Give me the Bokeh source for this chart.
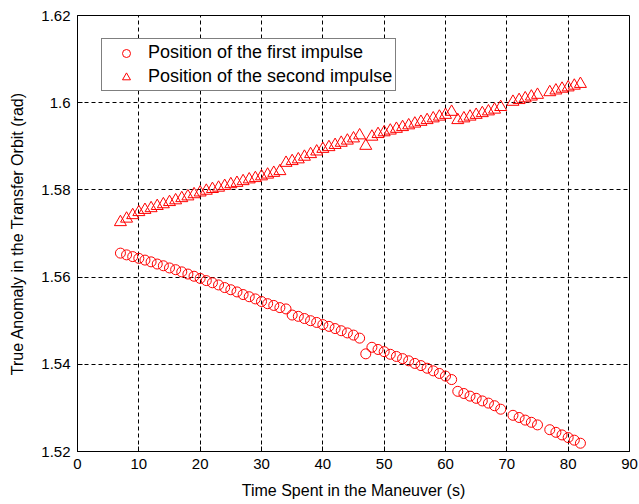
from bokeh.plotting import figure
from bokeh.models import Range1d, FixedTicker, Legend, LegendItem
from bokeh.embed import file_html
from bokeh.resources import INLINE

# ---- data ----
x_time = [7, 8, 9, 10, 11, 12, 13, 14, 15, 16, 17, 18, 19, 20, 21, 22, 23, 24, 25, 26,
          27, 28, 29, 30, 31, 32, 33, 34, 35, 36, 37, 38, 39, 40, 41, 42, 43, 44, 45, 46,
          47, 48, 49, 50, 51, 52, 53, 54, 55, 56, 57, 58, 59, 60, 61, 62, 63, 64, 65, 66,
          67, 68, 69, 71, 72, 73, 74, 75, 77, 78, 79, 80, 81, 82]

first_impulse = [1.5655, 1.5651, 1.5647, 1.5643, 1.5639, 1.5635, 1.5630, 1.5626, 1.5621, 1.5617,
                 1.5612, 1.5607, 1.5602, 1.5597, 1.5592, 1.5587, 1.5582, 1.5576, 1.5571, 1.5566,
                 1.5560, 1.5555, 1.5550, 1.5544, 1.5539, 1.5535, 1.5530, 1.5527, 1.5513, 1.5510,
                 1.5505, 1.5500, 1.5496, 1.5491, 1.5487, 1.5482, 1.5477, 1.5472, 1.5467, 1.5460,
                 1.5424, 1.5439, 1.5434, 1.5429, 1.5423, 1.5418, 1.5413, 1.5408, 1.5402, 1.5397,
                 1.5391, 1.5385, 1.5379, 1.5373, 1.5365, 1.5338, 1.5333, 1.5327, 1.5322, 1.5316,
                 1.5311, 1.5305, 1.5297, 1.5283, 1.5278, 1.5272, 1.5267, 1.5261, 1.5250, 1.5244,
                 1.5238, 1.5232, 1.5226, 1.5219]

second_impulse = [1.5726, 1.5734, 1.5742, 1.5749, 1.5754, 1.5758, 1.5763, 1.5767, 1.5772, 1.5776,
                  1.5781, 1.5785, 1.5790, 1.5794, 1.5798, 1.5802, 1.5805, 1.5809, 1.5813, 1.5816,
                  1.5820, 1.5824, 1.5827, 1.5831, 1.5835, 1.5839, 1.5843, 1.5862, 1.5866, 1.5870,
                  1.5876, 1.5882, 1.5888, 1.5894, 1.5898, 1.5903, 1.5908, 1.5913, 1.5918, 1.5925,
                  1.5901, 1.5922, 1.5928, 1.5932, 1.5936, 1.5940, 1.5944, 1.5948, 1.5952, 1.5956,
                  1.5960, 1.5964, 1.5968, 1.5972, 1.5979, 1.5960, 1.5964, 1.5968, 1.5972, 1.5976,
                  1.5980, 1.5984, 1.5990, 1.6002, 1.6006, 1.6010, 1.6014, 1.6018, 1.6024, 1.6028,
                  1.6032, 1.6035, 1.6039, 1.6043]

x_ticks = [0, 10, 20, 30, 40, 50, 60, 70, 80, 90]
y_ticks = [1.52, 1.54, 1.56, 1.58, 1.6, 1.62]
y_tick_labels = ["1.52", "1.54", "1.56", "1.58", "1.6", "1.62"]

series_labels = ["Position of the first impulse", "Position of the second impulse"]
x_title = "Time Spent in the Maneuver (s)"
y_title = "True Anomaly in the Transfer Orbit (rad)"

FONT = "Liberation Sans"

p = figure(width=639, height=504, output_backend="svg", toolbar_location=None,
           x_range=Range1d(0, 90), y_range=Range1d(1.52, 1.62),
           min_border_left=77, min_border_right=10, min_border_top=15, min_border_bottom=53)
p.background_fill_color = "white"
p.border_fill_color = "white"
p.outline_line_color = "black"
p.outline_line_width = 1
p.outline_line_alpha = 1.0

for ax in (p.xaxis[0], p.yaxis[0]):
    ax.major_tick_in = 5
    ax.major_tick_out = 0
    ax.minor_tick_in = 0
    ax.minor_tick_out = 0
    ax.axis_line_color = "black"
    ax.major_tick_line_color = "black"
    ax.major_label_text_font = FONT
    ax.major_label_text_font_size = "15px"
    ax.major_label_text_color = "black"
    ax.axis_label_text_font = FONT
    ax.axis_label_text_font_size = "16px"
    ax.axis_label_text_font_style = "normal"
    ax.axis_label_text_color = "black"

p.xaxis[0].ticker = FixedTicker(ticks=x_ticks)
p.yaxis[0].ticker = FixedTicker(ticks=y_ticks)
p.yaxis[0].major_label_overrides = {t: l for t, l in zip(y_ticks, y_tick_labels)}
p.xaxis[0].axis_label = x_title
p.yaxis[0].axis_label = y_title
p.xaxis[0].major_label_standoff = 7
p.yaxis[0].major_label_standoff = 7
p.xaxis[0].axis_label_standoff = 10
p.yaxis[0].axis_label_standoff = 12

p.xgrid.ticker = FixedTicker(ticks=x_ticks)
p.ygrid.ticker = FixedTicker(ticks=y_ticks)
for g in (p.xgrid[0], p.ygrid[0]):
    g.grid_line_color = "black"
    g.grid_line_alpha = 1.0
    g.grid_line_width = 1
    g.grid_line_dash = "4 3"

r1 = p.scatter(x_time, first_impulse, marker="circle", size=10,
               line_color="#ff0000", fill_color=None, line_width=1)
r2 = p.scatter(x_time, second_impulse, marker="triangle", size=12,
               line_color="#ff0000", fill_color=None, line_width=1)

legend = Legend(items=[LegendItem(label=series_labels[0], renderers=[r1]),
                       LegendItem(label=series_labels[1], renderers=[r2])],
                location=(24, 360))
legend.border_line_color = "black"
legend.border_line_width = 1
legend.background_fill_color = "white"
legend.background_fill_alpha = 1.0
legend.padding = 3
legend.spacing = 3
legend.margin = 0
legend.label_height = 20
legend.glyph_height = 20
legend.glyph_width = 42
legend.label_standoff = 1
legend.label_text_font = FONT
legend.label_text_font_size = "18px"
legend.label_text_color = "black"
p.add_layout(legend)

open("out.html", "w").write(file_html(p, INLINE))
